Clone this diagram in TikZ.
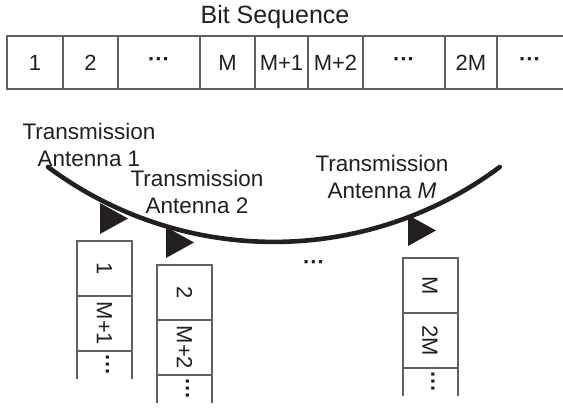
\documentclass[tikz,border=0pt]{standalone}
\usepackage{fontspec}
\setmainfont{Liberation Sans}
\usetikzlibrary{positioning}
\definecolor{linegray}{RGB}{95,95,95}
\definecolor{inkblack}{RGB}{35,31,32}
\tikzstyle{every node}+=[text=inkblack,inner sep=0pt,outer sep=0pt]
\tikzstyle{hcell}=[draw=linegray,line width=1pt,minimum height=26.5pt,font=\fontsize{11}{13}\selectfont]
\tikzstyle{vcell}=[draw=linegray,line width=1pt,minimum width=27.5pt,minimum height=27.5pt,font=\fontsize{11}{13}\selectfont]
\tikzstyle{vgap}=[minimum width=27.5pt,minimum height=14pt,font=\fontsize{11}{13}\bfseries]
\tikzstyle{cellline}=[draw=linegray,line width=1pt]
\tikzstyle{antlabel}=[align=center,font=\fontsize{11.25}{13.5}\selectfont]
\tikzstyle{antenna}=[fill=inkblack]
\tikzstyle{beam}=[draw=inkblack,line width=2.3pt,line cap=round]
\newcommand{\drawstack}[4]{
	\node[vcell] (#1a) at (#2) {\rotatebox{-90}{#3}};
	\node[vcell,below=0pt of #1a] (#1b) {\rotatebox{-90}{#4}};
	\node[vgap,below=0pt of #1b] (#1c) {\rotatebox{-90}{···}};
	\draw[cellline] (#1b.south west) -- (#1c.south west);
	\draw[cellline] (#1b.south east) -- (#1c.south east);
}

\begin{document}
\begin{tikzpicture}[x=0.5pt,y=-0.5pt]
\useasboundingbox (0,0) rectangle (563,410);
% bit sequence
\node[font=\fontsize{12.5}{15}\selectfont] (title) at (275,17) {Bit Sequence};
\foreach \l/\r/\t [count=\i] in {7/63/1,63/118/2,118/200/\textbf{···},200/255/M,255/308/M+1,308/363/M+2,363/445/\textbf{···},445/497/2M}
	\node[hcell,minimum width={(\r-\l)*0.5pt}] (b\i) at ({(\l+\r)/2},62.5) {\t};
\node[font=\fontsize{11}{13}\bfseries] (b9) at (530,62.5) {···};
\coordinate (rowtop) at (563,36);
\coordinate (rowbot) at (563,89);
\draw[cellline] (b8.north east) -- (rowtop);
\draw[cellline] (b8.south east) -- (rowbot);

% antennas
\draw[beam] (48,167) arc[start angle=126.7,end angle=53.3,radius=378];
\foreach \x/\y in {100/203,166/227,408/215}
	\fill[antenna] (\x,\y) -- ++(0,31) -- ++(28,-15.5) -- cycle;
\node[antlabel] (ant1) at (89,144.5) {Transmission\\Antenna 1};
\node[antlabel] (ant2) at (197,191.5) {Transmission\\Antenna 2};
\node[antlabel] (antM) at (382,176.5) {Transmission\\Antenna \textit{M}};

% per-antenna streams
\drawstack{s1}{104.5,268.5}{1}{M+1}
\drawstack{s2}{184.5,292.5}{2}{M+2}
\drawstack{sM}{430,285.5}{M}{2M}
\node[font=\fontsize{11}{13}\bfseries] (mdots) at (314,265) {···};
\end{tikzpicture}
\end{document}
